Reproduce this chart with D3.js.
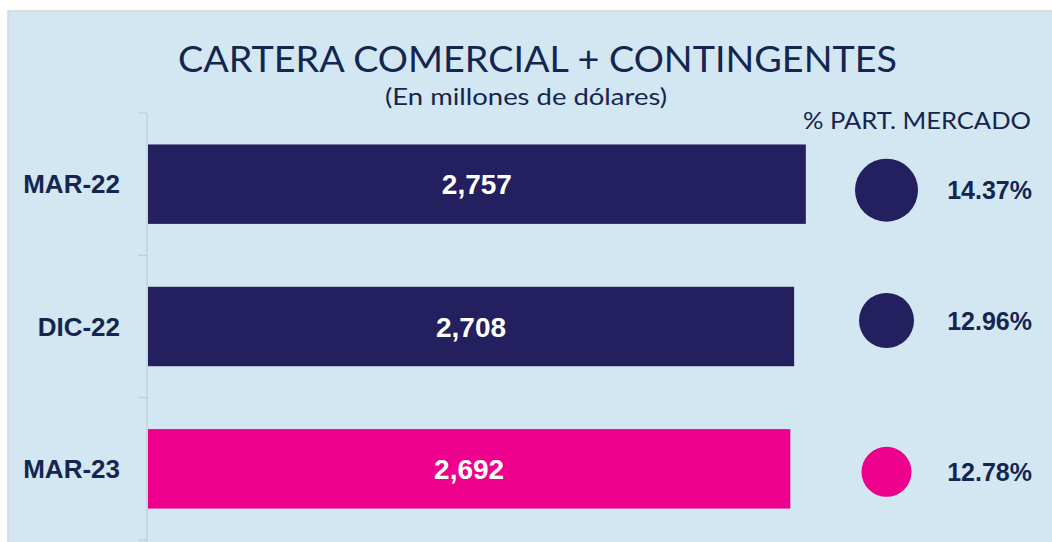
<!DOCTYPE html>
<html>
<head>
<meta charset="utf-8">
<script src="https://cdn.jsdelivr.net/npm/d3@7"></script>
<style>
  html, body { margin: 0; padding: 0; background: #ffffff; }
  svg { display: block; }
</style>
</head>
<body>
<svg id="chart" width="1052" height="542"></svg>
<script>
// ---- data ----
const categories = ["MAR-22", "DIC-22", "MAR-23"];
const values = [2757, 2708, 2692];
const valueLabels = ["2,757", "2,708", "2,692"];
const shares = [14.37, 12.96, 12.78];
const shareLabels = ["14.37%", "12.96%", "12.78%"];
const title = "CARTERA COMERCIAL + CONTINGENTES";
const subtitle = "(En millones de dólares)";
const shareHeader = "% PART. MERCADO";

// ---- styles / layout ----
const NAVY = "#241f5e";
const PINK = "#ec008c";
const TEXT = "#14264f";
const barColors = [NAVY, NAVY, PINK];
const circleNudge = [6, -6, 3];

const svg = d3.select("#chart");
const W = 1052, H = 542;

// panel background
svg.append("rect").attr("x", 8).attr("y", 11).attr("width", W).attr("height", H)
  .attr("fill", "#d3e7f2").attr("stroke", "#d6d6d6").attr("stroke-width", 1.5);

const data = categories.map((c, i) => ({
  cat: c, value: values[i], vLabel: valueLabels[i], share: shares[i], sLabel: shareLabels[i], color: barColors[i], i
}));

const x = d3.scaleLinear().domain([0, 3000]).range([148, 148 + 3000 * 0.2386]);
const y = d3.scaleBand().domain(categories).range([113, 540]).paddingInner(0.442).paddingOuter(0.221);
const r = d3.scaleLinear().domain([12.78, 12.96, 14.37]).range([25, 27.5, 31.5]);

// axis
const axis = d3.axisLeft(y).tickSize(0).tickPadding(27);
const gA = svg.append("g").attr("transform", "translate(147,0)").call(axis);
gA.select(".domain").attr("stroke", "#c5ccd3").attr("stroke-width", 1.2).attr("d", `M0,113V${H}`);
gA.selectAll(".tick text")
  .attr("fill", TEXT).attr("font-family", "Liberation Sans, Arial, sans-serif")
  .attr("font-weight", "bold").attr("font-size", 26).attr("dy", "0.35em");

// boundary ticks
const step = y.step();
const bounds = categories.map(c => y(c) - (step - y.bandwidth()) / 2);
bounds.push(bounds[bounds.length - 1] + step);
svg.append("g").selectAll("line").data(bounds).join("line")
  .attr("x1", 138).attr("x2", 147).attr("y1", d => d).attr("y2", d => d)
  .attr("stroke", "#c5ccd3").attr("stroke-width", 1.2);

// bars
svg.append("g").selectAll("rect").data(data).join("rect")
  .attr("x", x(0)).attr("y", d => y(d.cat))
  .attr("width", d => x(d.value) - x(0)).attr("height", y.bandwidth())
  .attr("fill", d => d.color);

// bar labels
svg.append("g").selectAll("text").data(data).join("text")
  .attr("x", d => (x(0) + x(d.value)) / 2)
  .attr("y", d => y(d.cat) + y.bandwidth() / 2)
  .attr("dy", "0.36em").attr("text-anchor", "middle")
  .attr("fill", "#ffffff").attr("font-family", "Liberation Sans, Arial, sans-serif")
  .attr("font-weight", "bold").attr("font-size", 28)
  .text(d => d.vLabel);

// circles
svg.append("g").selectAll("circle").data(data).join("circle")
  .attr("cx", 886.5)
  .attr("cy", d => y(d.cat) + y.bandwidth() / 2 + circleNudge[d.i])
  .attr("r", d => r(d.share))
  .attr("fill", d => d.color);

// share labels
svg.append("g").selectAll("text").data(data).join("text")
  .attr("x", 1032)
  .attr("y", d => y(d.cat) + y.bandwidth() / 2 + circleNudge[d.i])
  .attr("dy", "0.36em").attr("text-anchor", "end")
  .attr("fill", TEXT).attr("font-family", "Liberation Sans, Arial, sans-serif")
  .attr("font-weight", "bold").attr("font-size", 25)
  .text(d => d.sLabel);

// titles
svg.append("text").attr("x", 537.5).attr("y", 72).attr("text-anchor", "middle")
  .attr("fill", TEXT).attr("font-family", "Lato, Open Sans, sans-serif").attr("font-size", 37)
  .attr("textLength", 719).attr("lengthAdjust", "spacingAndGlyphs")
  .text(title);
svg.append("text").attr("x", 526).attr("y", 105).attr("text-anchor", "middle")
  .attr("fill", TEXT).attr("font-family", "Lato, Open Sans, sans-serif").attr("font-size", 23)
  .attr("textLength", 282).attr("lengthAdjust", "spacingAndGlyphs")
  .text(subtitle);
svg.append("text").attr("x", 1031).attr("y", 129).attr("text-anchor", "end")
  .attr("fill", TEXT).attr("font-family", "Lato, Open Sans, sans-serif").attr("font-size", 24)
  .attr("textLength", 228).attr("lengthAdjust", "spacingAndGlyphs")
  .text(shareHeader);
</script>
</body>
</html>
